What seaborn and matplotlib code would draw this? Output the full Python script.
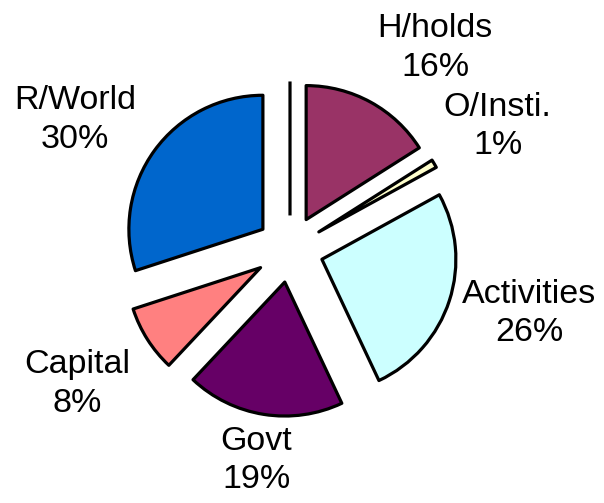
import numpy as np
import matplotlib.pyplot as plt
import seaborn as sns

# ── data ──────────────────────────────────────
categories = ["", "H/holds", "O/Insti.", "Activities", "Govt", "Capital", "R/World"]
shares = [0, 16, 1, 26, 19, 8, 30]          # percent
colors = ["#FFFFFF", "#993366", "#FFFFCC", "#CCFFFF", "#660066", "#FF8080", "#0066CC"]

# label placement (distance in radii from pie centre, angular nudge in degrees)
label_dist = [1.85, 1.85, 1.8, 1.85, 1.6, 1.88, 1.87]
label_nudge = [0, -7, 0, 3, 0, 0, 5]
explode = [0.25, 0.25, 0.25, 0.25, 0.25, 0.26, 0.25]

sns.set_theme(style="white")
plt.rcParams["font.family"] = ["Liberation Sans", "DejaVu Sans"]

fig = plt.figure(figsize=(6.04, 5.03), dpi=100)
ax = fig.add_axes([0, 0, 1, 1])

labels = [f"{c}\n{s}%" if c else "" for c, s in zip(categories, shares)]
wedges, texts = ax.pie(
    shares,
    labels=labels,
    colors=colors,
    explode=explode,
    startangle=90,
    counterclock=False,
    labeldistance=1.6,
    wedgeprops=dict(edgecolor="black", linewidth=2.3, joinstyle="round"),
    textprops=dict(fontsize=24.5, color="black", ha="center", va="center",
                   linespacing=1.3),
)

# reposition labels around the true centre
for w, t, d, n in zip(wedges, texts, label_dist, label_nudge):
    mid = np.deg2rad((w.theta1 + w.theta2) / 2 + n)
    t.set_position((d * np.cos(mid), d * np.sin(mid)))

ax.set_aspect("auto")
ax.set_xlim(-2.164, 2.343)
ax.set_ylim(-1.896, 1.858)
ax.axis("off")

fig.savefig("out.png", dpi=100)
